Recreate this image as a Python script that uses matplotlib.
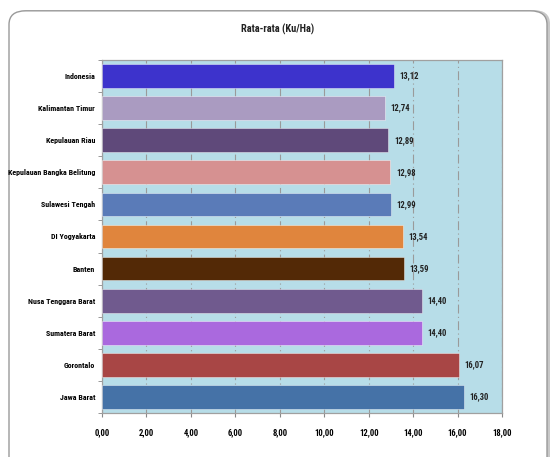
import matplotlib
matplotlib.use("Agg")
from matplotlib import pyplot as plt
from matplotlib import font_manager
from matplotlib.patches import FancyBboxPatch

provinces = ["Indonesia", "Kalimantan Timur", "Kepulauan Riau", "Kepulauan Bangka Belitung",
             "Sulawesi Tengah", "DI Yogyakarta", "Banten", "Nusa Tenggara Barat",
             "Sumatera Barat", "Gorontalo", "Jawa Barat"]
values = [13.12, 12.74, 12.89, 12.98, 12.99, 13.54, 13.59, 14.40, 14.40, 16.07, 16.30]
colors = ["#3D33CC", "#AA9BC1", "#5F497A", "#D69191", "#5A7BB8", "#E0853D",
          "#532906", "#705A8E", "#AA69DE", "#A84645", "#4572A7"]
xticks = [0, 2, 4, 6, 8, 10, 12, 14, 16, 18]

installed = {f.name for f in font_manager.fontManager.ttflist}
family = "Liberation Sans"
for cand in ["Liberation Sans Narrow", "Roboto Condensed", "Open Sans Condensed"]:
    if cand in installed:
        family = cand
        break
plt.rcParams["font.family"] = [family, "DejaVu Sans"]

fig = plt.figure(figsize=(5.56, 4.57), dpi=100)

# rounded outer frame with a soft shadow
shadow = FancyBboxPatch((12 / 556, -0.2), 538 / 556, 1 - 10 / 457 + 0.2,
                        boxstyle="round,pad=0,rounding_size=0.03",
                        transform=fig.transFigure, facecolor="#c8c8c8",
                        edgecolor="none", zorder=-2)
frame = FancyBboxPatch((9 / 556, -0.2), 538 / 556, 1 - 9 / 457 + 0.2 - 0.004,
                       boxstyle="round,pad=0,rounding_size=0.03",
                       transform=fig.transFigure, facecolor="white",
                       edgecolor="#9a9a9a", linewidth=1.0, zorder=-1)
fig.patches.extend([shadow, frame])

ax = fig.add_axes([102 / 556, 1 - 413 / 457, 400 / 556, 353 / 457])
ax.set_zorder(2)
ax.set_facecolor("#B7DDE8")

pos = range(len(provinces))
ax.barh(pos, values, height=0.74, color=colors, edgecolor="#ffffff80",
        linewidth=0.6, zorder=3)

for p, v in zip(pos, values):
    ax.text(v + 0.25, p, f"{v:.2f}".replace(".", ","), va="center", ha="left",
            fontsize=6.2, fontweight="bold", color="#222222", zorder=4)

ax.set_xlim(0, 18)
ax.set_ylim(len(provinces) - 0.5, -0.5)
ax.set_xticks(xticks)
ax.set_xticklabels([f"{t:.2f}".replace(".", ",") for t in xticks],
                   fontsize=6.2, fontweight="bold")
ax.set_yticks(list(pos))
ax.set_yticklabels(provinces, fontsize=5.8, fontweight="bold")
ax.tick_params(axis="y", length=0, pad=5)
ax.tick_params(axis="x", length=3, color="#888888", pad=8)

# boundary ticks on the category axis
ax.set_yticks([i - 0.5 for i in range(len(provinces) + 1)], minor=True)
ax.tick_params(axis="y", which="minor", length=3, color="#888888")

ax.grid(axis="x", color="#9a9a9a", linestyle=(0, (8, 3, 1, 3)), linewidth=0.8, zorder=1)
ax.set_axisbelow(True)
for side in ["left", "bottom", "right", "top"]:
    ax.spines[side].set_color("#a0a0a0")
    ax.spines[side].set_linewidth(0.9)

fig.text(0.5, 1 - 29 / 457, "Rata-rata (Ku/Ha)", ha="center", va="center",
         fontsize=7.5, fontweight="bold", color="#222222")

fig.savefig("out.png", dpi=100)
